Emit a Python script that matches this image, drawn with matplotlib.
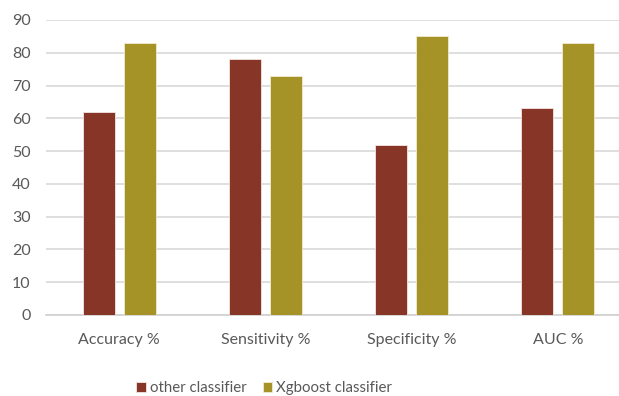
import numpy as np
import matplotlib.pyplot as plt

categories = ['Accuracy %', 'Sensitivity %', 'Specificity %', 'AUC %']
other_clf = [62, 78, 52, 63]
xgb_clf = [83, 73, 85, 83]

red = '#873526'
olive = '#A59328'
txt = '#595959'

plt.rcParams['font.family'] = ['Lato', 'DejaVu Sans']

fig = plt.figure(figsize=(6.19, 3.96), dpi=100)
ax = fig.add_axes([46/619, 81/396, 573/619, 295/396])

x = np.arange(len(categories))
w = 0.22
off = 0.14
ax.bar(x - off, other_clf, w, color=red, edgecolor='#f2e6e2', linewidth=0.6,
       label='other classifier', zorder=3)
ax.bar(x + off, xgb_clf, w, color=olive, edgecolor='#f0ebcf', linewidth=0.6,
       label='Xgboost classifier', zorder=3)

ax.set_xlim(-0.5, 3.5 - 12/146.3)
ax.set_ylim(0, 90)
ax.set_yticks(range(0, 91, 10))
ax.yaxis.grid(True, color='#d9d9d9', linewidth=1.2, zorder=0)
ax.set_axisbelow(True)

for s in ['top', 'right', 'left']:
    ax.spines[s].set_visible(False)
ax.spines['bottom'].set_color('#d0d0d0')
ax.spines['bottom'].set_linewidth(1.2)

ax.set_xticks(x)
ax.set_xticklabels(categories)
ax.tick_params(axis='both', length=0, labelsize=11.5, colors=txt)
ax.tick_params(axis='x', pad=13)
ax.tick_params(axis='y', pad=11)

fig.legend(loc='center', bbox_to_anchor=(264/619, 1 - 388/396), ncol=2,
           frameon=False, fontsize=10.8, labelcolor=txt, handlelength=0.65,
           handleheight=0.65, handletextpad=0.25, columnspacing=1.1)

fig.savefig('out.png', dpi=100)
